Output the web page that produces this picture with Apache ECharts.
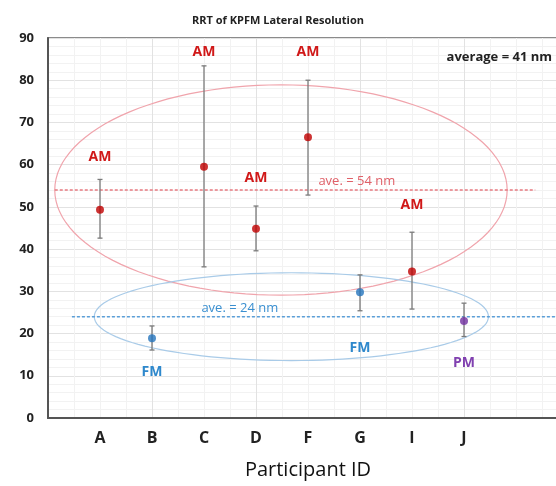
<!DOCTYPE html>
<html>
<head>
<meta charset="utf-8">
<script src="https://cdn.jsdelivr.net/npm/echarts@6/dist/echarts.min.js"></script>
<style>
  html, body { margin: 0; padding: 0; background: #fff; }
  #chart { width: 556px; height: 486px; }
</style>
</head>
<body>
<div id="chart"></div>
<script>
// participants and measured resolution (nm)
var participants = ["A", "B", "C", "D", "F", "G", "I", "J"];
var modes = ["AM", "FM", "AM", "AM", "AM", "FM", "AM", "PM"];
var means = [49.3, 18.9, 59.5, 44.8, 66.5, 29.8, 34.7, 23.0];
var highs = [56.5, 21.8, 83.4, 50.2, 80.0, 33.9, 44.0, 27.2];
var lows = [42.6, 16.1, 35.8, 39.6, 52.8, 25.4, 25.8, 19.3];
var aveAM = 54;
var aveFM = 24;
var aveAll = 41;

var colors = { AM: "#c00000", FM: "#2474bd", PM: "#7030a0" };
var labelColors = { AM: "#d01818", FM: "#2e88cc", PM: "#8040b0" };
// how far (px) the mode tag sits from the whisker end
var tagGap = [22, 22, 14, 28, 28, 37, 27, 27];

var chart = echarts.init(document.getElementById("chart"));

function pointsOf(mode) {
  var out = [];
  participants.forEach(function (p, i) {
    if (modes[i] === mode) out.push([i + 1, means[i]]);
  });
  return out;
}

var errData = participants.map(function (p, i) {
  return [i + 1, lows[i], highs[i]];
});
var tagData = participants.map(function (p, i) {
  return [i + 1, modes[i] === "AM" ? highs[i] : lows[i], i];
});

var option = {
  animation: false,
  title: {
    text: "RRT of KPFM Lateral Resolution",
    left: "center",
    top: 10,
    textStyle: { fontSize: 11, fontWeight: "bold", color: "#222", fontFamily: "Open Sans" }
  },
  graphic: [{
    type: "text",
    right: 4,
    top: 51,
    z: 100,
    style: { text: "average = " + aveAll + " nm", font: "bold 13px Open Sans", fill: "#222" }
  }],
  grid: {
    left: 48, top: 38, right: -12, bottom: 68,
    outerBoundsMode: "none",
    show: true, borderColor: "#666", borderWidth: 1.5
  },
  xAxis: [{
    type: "value",
    min: 0, max: 10, interval: 1,
    axisLine: { lineStyle: { color: "#555", width: 2 } },
    axisTick: { show: false },
    splitLine: { show: false },
    axisLabel: {
      margin: 12,
      fontSize: 16, fontWeight: "bold", color: "#222", fontFamily: "Open Sans",
      formatter: function (v) { return participants[v - 1] || ""; }
    },
    name: "Participant ID",
    nameLocation: "middle",
    nameGap: 42,
    nameTextStyle: { fontSize: 20, color: "#111", fontFamily: "Open Sans" }
  }, {
    type: "value",
    position: "bottom",
    min: 0, max: 10, interval: 2,
    axisLine: { show: false },
    axisTick: { show: false },
    axisLabel: { show: false },
    splitLine: { show: true, lineStyle: { color: "#e2e2e2", width: 1 } },
    minorTick: { show: false, splitNumber: 4 },
    minorSplitLine: { show: true, lineStyle: { color: "#f2f2f2", width: 1 } }
  }],
  yAxis: {
    type: "value",
    min: 0, max: 90, interval: 10,
    axisLine: { show: true, lineStyle: { color: "#555", width: 2 } },
    axisTick: { show: false },
    axisLabel: { margin: 14, fontSize: 13, fontWeight: "bold", color: "#222", fontFamily: "Open Sans" },
    splitLine: { lineStyle: { color: "#e2e2e2", width: 1 } },
    minorTick: { show: false, splitNumber: 5 },
    minorSplitLine: { show: true, lineStyle: { color: "#f2f2f2", width: 1 } }
  },
  series: [
    // grouping ellipses
    {
      type: "custom",
      silent: true,
      z: 1,
      data: [[4.48, aveAM, 4.35, 24.9, "#f0a4ac"], [4.68, aveFM, 3.79, 10.4, "#a9cbe8"]],
      renderItem: function (params, api) {
        var c = api.coord([api.value(0), api.value(1)]);
        var s = api.size([api.value(2), api.value(3)]);
        var pts = [];
        for (var k = 0; k <= 120; k++) {
          var t = (k / 120) * Math.PI * 2;
          pts.push([c[0] + s[0] * Math.cos(t), c[1] + s[1] * Math.sin(t)]);
        }
        var d = option.series[0].data[params.dataIndex];
        return {
          type: "polyline",
          shape: { points: pts },
          style: { stroke: d[4], lineWidth: 1.2, fill: null }
        };
      }
    },
    // average lines with their notes
    {
      type: "custom",
      silent: true,
      z: 2,
      data: [[0.13, 9.37, aveAM, 5.2, "#e77a80", "#e06068"], [0.46, 10, aveFM, 2.95, "#5b9fd8", "#3a8fd0"]],
      renderItem: function (params, api) {
        var d = option.series[1].data[params.dataIndex];
        var a = api.coord([d[0], d[2]]);
        var b = api.coord([d[1], d[2]]);
        var t = api.coord([d[3], d[2]]);
        return {
          type: "group",
          children: [{
            type: "line",
            shape: { x1: a[0], y1: a[1], x2: b[0], y2: b[1] },
            style: { stroke: d[4], lineWidth: 1.5, lineDash: [3, 2] }
          }, {
            type: "text",
            x: t[0], y: t[1] - 2,
            style: {
              text: "ave. = " + d[2] + " nm",
              fill: d[5], font: "13px Open Sans",
              textAlign: "left", textVerticalAlign: "bottom"
            }
          }]
        };
      }
    },
    // error bars
    {
      type: "custom",
      z: 3,
      data: errData,
      renderItem: function (params, api) {
        var lo = api.coord([api.value(0), api.value(1)]);
        var hi = api.coord([api.value(0), api.value(2)]);
        var w = 2.5;
        var st = { stroke: "#7a7a7a", lineWidth: 1.3 };
        return {
          type: "group",
          children: [
            { type: "line", shape: { x1: lo[0], y1: lo[1], x2: hi[0], y2: hi[1] }, style: st },
            { type: "line", shape: { x1: lo[0] - w, y1: lo[1], x2: lo[0] + w, y2: lo[1] }, style: st },
            { type: "line", shape: { x1: hi[0] - w, y1: hi[1], x2: hi[0] + w, y2: hi[1] }, style: st }
          ]
        };
      }
    },
    // mode tags
    {
      type: "custom",
      z: 4,
      data: tagData,
      renderItem: function (params, api) {
        var i = api.value(2);
        var p = api.coord([api.value(0), api.value(1)]);
        var up = modes[i] === "AM";
        return {
          type: "text",
          x: p[0],
          y: p[1] + (up ? -tagGap[i] : tagGap[i]),
          style: {
            text: modes[i],
            fill: labelColors[modes[i]],
            font: "bold 14px Open Sans",
            textAlign: "center",
            textVerticalAlign: "middle"
          }
        };
      }
    },
    {
      type: "scatter", name: "AM", z: 5,
      symbolSize: 8,
      itemStyle: { color: colors.AM },
      data: pointsOf("AM")
    },
    {
      type: "scatter", name: "FM", z: 5,
      symbolSize: 8,
      itemStyle: { color: colors.FM },
      data: pointsOf("FM")
    },
    {
      type: "scatter", name: "PM", z: 5,
      symbolSize: 8,
      itemStyle: { color: colors.PM },
      data: pointsOf("PM")
    }
  ]
};

chart.setOption(option);
</script>
</body>
</html>
